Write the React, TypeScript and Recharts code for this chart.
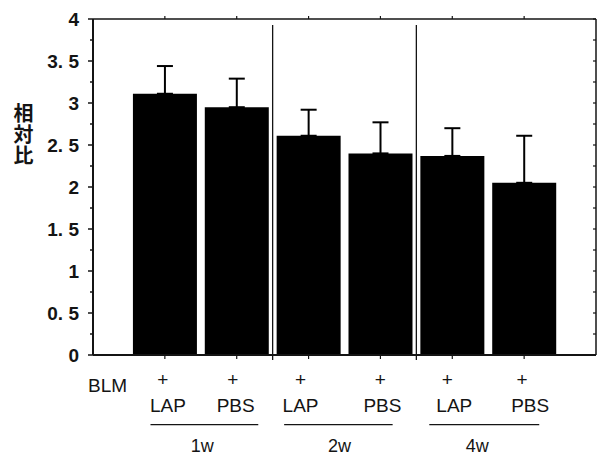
import React from "react";
import {
  ComposedChart,
  Bar,
  XAxis,
  YAxis,
  ErrorBar,
  ReferenceLine,
} from "recharts";

// bar order: 1w LAP, 1w PBS, 2w LAP, 2w PBS, 4w LAP, 4w PBS
const treatments = ["LAP", "PBS", "LAP", "PBS", "LAP", "PBS"];
const ratioMean = [3.11, 2.95, 2.61, 2.4, 2.37, 2.05];
const ratioErr = [0.33, 0.34, 0.31, 0.37, 0.33, 0.56];

const weeks = ["1w", "2w", "4w"];
const weekLineStart = [0.8, 2.66, 4.68];
const weekLineEnd = [2.3, 4.17, 6.21];
const groupDividers = [2.5, 4.5];

const yTicks = [0, 0.25, 0.5, 0.75, 1, 1.25, 1.5, 1.75, 2, 2.25, 2.5, 2.75, 3, 3.25, 3.5, 3.75, 4];
const xTicks = [0, 1, 2, 3, 4, 5, 6];
const topTicks = [1, 2, 3, 4, 5, 6];

// small hand offsets of the labels under the axis (px), as placed in the figure
const plusShift = [-2, -4, -8, 0, -5, -2];
const nameShift = [3, -1, -8, 2, 2, 6];
const weekShift = [-2, 1, -7];

const data = ratioMean.map((v, i) => ({
  pos: i + 1,
  label: treatments[i],
  ratio: v,
  err: [0, ratioErr[i]],
}));

const INK = "#141414";

const fmtY = (v: number) =>
  Number.isInteger(v) ? String(v) : v.toFixed(1).replace(".", ". ");

const isMajor = (v: number) => Math.abs(v * 2 - Math.round(v * 2)) < 1e-6;

function LeftTick(props: any) {
  const { x, y, payload } = props;
  const v = payload.value;
  const major = isMajor(v);
  return (
    <g>
      <line x1={x - (major ? 5 : 3)} x2={x} y1={y} y2={y} stroke={INK} strokeWidth={1.5} />
      {major && (
        <text
          x={x - 14}
          y={y + 7}
          textAnchor="end"
          fontSize={19}
          fontWeight="bold"
          fill={INK}
          fontFamily="'Liberation Sans', Arial, sans-serif"
        >
          {fmtY(v)}
        </text>
      )}
    </g>
  );
}

function RightTick(props: any) {
  const { x, y } = props;
  return <line x1={x - 3} x2={x} y1={y} y2={y} stroke={INK} strokeWidth={1.2} />;
}

function TopTick(props: any) {
  const { x, y } = props;
  return <line x1={x} x2={x} y1={y - 3} y2={y} stroke={INK} strokeWidth={1.2} />;
}

function BottomTick(props: any) {
  const { x, y, payload } = props;
  const v = payload.value;
  if (v === 0) {
    return (
      <text x={x - 5} y={y + 37} fontSize={19} fill={INK}>
        BLM
      </text>
    );
  }
  return (
    <g>
      <line x1={x} x2={x} y1={y} y2={y + 4} stroke={INK} strokeWidth={1.2} />
      <text x={x + plusShift[v - 1]} y={y + 31} textAnchor="middle" fontSize={19} fill={INK}>
        +
      </text>
      <text x={x + nameShift[v - 1]} y={y + 57} textAnchor="middle" fontSize={19} fill={INK}>
        {treatments[v - 1]}
      </text>
    </g>
  );
}

const weekLabel = (i: number) => (props: any) => {
  const vb = props.viewBox || {};
  const cx = (vb.x ?? 0) + (vb.width ?? 0) / 2 + weekShift[i];
  const cy = (vb.y ?? 0) + 27;
  return (
    <text x={cx} y={cy} textAnchor="middle" fontSize={18} fill={INK}>
      {weeks[i]}
    </text>
  );
};

export default function App() {
  return (
    <div
      style={{
        position: "absolute",
        left: 0,
        top: 0,
        width: 600,
        height: 457,
        background: "#fff",
        fontFamily: "'Liberation Sans', Arial, sans-serif",
      }}
    >
      <ComposedChart
        width={600}
        height={457}
        data={data}
        margin={{ top: 18, right: 3, bottom: 101, left: 0 }}
      >
        <XAxis
          dataKey="pos"
          type="number"
          domain={[0, 7]}
          ticks={xTicks}
          interval={0}
          height={1}
          tickSize={0}
          tickMargin={0}
          tickLine={false}
          tick={<BottomTick />}
          axisLine={{ stroke: INK, strokeWidth: 2 }}
          allowDataOverflow
        />
        <XAxis
          xAxisId="top"
          orientation="top"
          dataKey="pos"
          type="number"
          domain={[0, 7]}
          ticks={topTicks}
          interval={0}
          height={1}
          tickSize={0}
          tickMargin={0}
          tickLine={false}
          tick={<TopTick />}
          axisLine={{ stroke: INK, strokeWidth: 1.5 }}
          allowDataOverflow
        />
        <YAxis
          type="number"
          domain={[0, 4]}
          ticks={yTicks}
          interval={0}
          width={93}
          tickSize={0}
          tickMargin={0}
          tickLine={false}
          tick={<LeftTick />}
          axisLine={{ stroke: INK, strokeWidth: 2 }}
          allowDataOverflow
        />
        <YAxis
          yAxisId="right"
          orientation="right"
          type="number"
          domain={[0, 4]}
          ticks={yTicks}
          interval={0}
          width={1}
          tickSize={0}
          tickMargin={0}
          tickLine={false}
          tick={<RightTick />}
          axisLine={{ stroke: INK, strokeWidth: 1.5 }}
          allowDataOverflow
        />
        {groupDividers.map((d) => (
          <ReferenceLine
            key={d}
            segment={[
              { x: d, y: 3.93 },
              { x: d, y: -0.06 },
            ]}
            stroke={INK}
            strokeWidth={1.3}
            ifOverflow="visible"
          />
        ))}
        <Bar dataKey="ratio" fill="#000" barSize={64} isAnimationActive={false}>
          <ErrorBar
            dataKey="err"
            direction="y"
            width={8}
            stroke="#000"
            strokeWidth={2}
            isAnimationActive={false}
          />
        </Bar>
        {weeks.map((w, i) => (
          <ReferenceLine
            key={w}
            segment={[
              { x: weekLineStart[i], y: -0.83 },
              { x: weekLineEnd[i], y: -0.83 },
            ]}
            stroke={INK}
            strokeWidth={1.2}
            ifOverflow="visible"
            label={weekLabel(i)}
          />
        ))}
      </ComposedChart>
      <div
        style={{
          position: "absolute",
          left: 13,
          top: 103,
          height: 66,
          writingMode: "vertical-rl",
          fontSize: 20,
          lineHeight: "20px",
          letterSpacing: 1,
          fontWeight: "bold",
          color: INK,
          fontFamily: "'Noto Sans CJK JP', sans-serif",
        }}
      >
        相対比
      </div>
    </div>
  );
}
